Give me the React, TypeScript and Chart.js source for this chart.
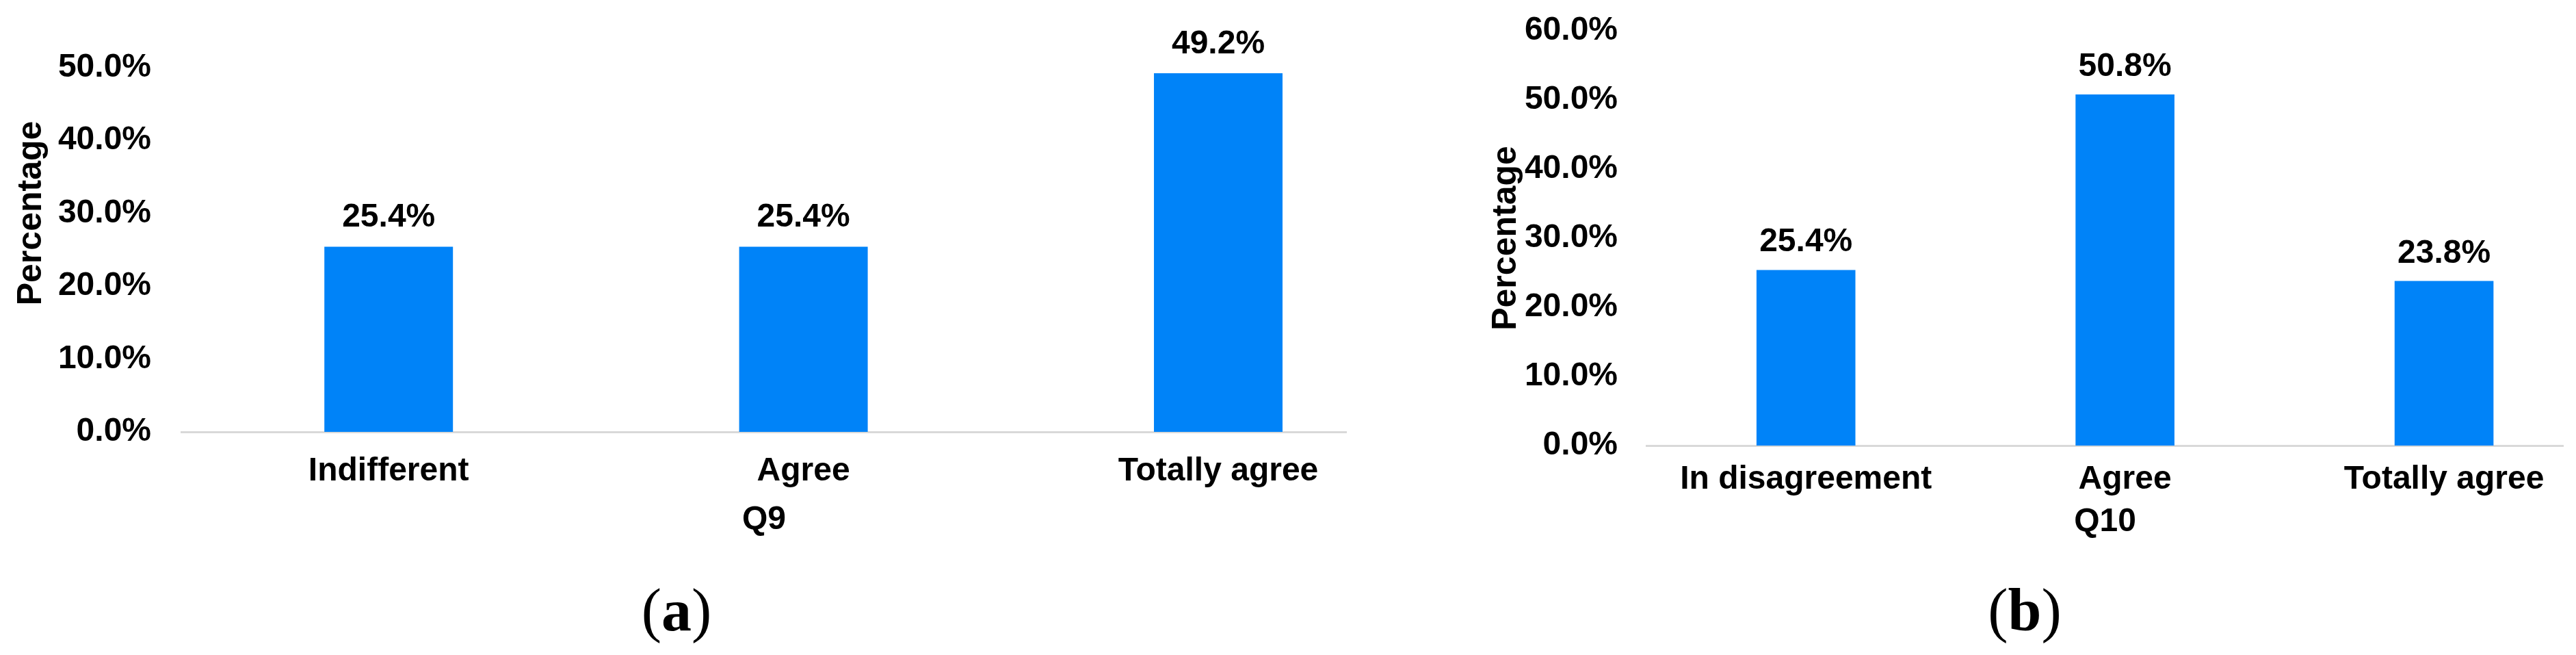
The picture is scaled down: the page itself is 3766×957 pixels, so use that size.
import React, { useEffect, useRef } from 'react';
import { Chart, registerables } from 'chart.js';

Chart.register(...registerables);

// ---------- data ----------
const CATEGORIES_Q9 = ['Indifferent', 'Agree', 'Totally agree'];
const VALUES_Q9 = [25.4, 25.4, 49.2];
const Y_TICKS_Q9 = [0, 10, 20, 30, 40, 50];
const X_TITLE_Q9 = 'Q9';
const PANEL_LABEL_Q9 = 'a';

const CATEGORIES_Q10 = ['In disagreement', 'Agree', 'Totally agree'];
const VALUES_Q10 = [25.4, 50.8, 23.8];
const Y_TICKS_Q10 = [0, 10, 20, 30, 40, 50, 60];
const X_TITLE_Q10 = 'Q10';
const PANEL_LABEL_Q10 = 'b';

const Y_TITLE = 'Percentage';

// ---------- style ----------
const FONT = '"Liberation Sans", Arial, Helvetica, sans-serif';
const SERIF = '"Liberation Serif", "Times New Roman", serif';
const BAR_COLOR = '#0083F8';
const AXIS_COLOR = '#D9D9D9';
const TEXT = '#000000';

type PanelProps = {
  categories: string[];
  values: number[];
  yTicks: number[];
  xTitle: string;
  yMax: number;
  xMax: number;
  left: number;
  top: number;
  width: number;
  height: number;
  padTop: number;
  yAxisWidth: number;
  yTickPad: number;
  yTitlePad: number;
  xAxisHeight: number;
  xTickPad: number;
  xTitlePadBottom: number;
  labelGap: number;
};

const fmt = (v: number) => `${Number(v).toFixed(1)}%`;

function Panel(p: PanelProps) {
  const ref = useRef<HTMLCanvasElement | null>(null);
  useEffect(() => {
    if (!ref.current) return;
    const valueLabels = {
      id: 'valueLabels',
      afterDatasetsDraw(chart: any) {
        const ctx = chart.ctx;
        const meta = chart.getDatasetMeta(0);
        const ds = chart.data.datasets[0];
        ctx.save();
        ctx.font = `bold 48px ${FONT}`;
        ctx.fillStyle = TEXT;
        ctx.textAlign = 'center';
        ctx.textBaseline = 'alphabetic';
        meta.data.forEach((el: any, i: number) => {
          const v = ds.data[i].y;
          ctx.fillText(fmt(v), el.x, el.y - p.labelGap);
        });
        ctx.restore();
      },
    };
    const chart = new Chart(ref.current, {
      type: 'bar',
      data: {
        datasets: [
          {
            data: p.values.map((v, i) => ({ x: i, y: v })),
            backgroundColor: BAR_COLOR,
            borderWidth: 0,
            barPercentage: 0.31,
            categoryPercentage: 1,
          },
        ],
      },
      options: {
        responsive: false,
        animation: false,
        devicePixelRatio: 1,
        layout: { padding: { top: p.padTop, left: 0, right: 0, bottom: 0 } },
        plugins: {
          legend: { display: false },
          tooltip: { enabled: false },
          title: { display: false },
        },
        scales: {
          x: {
            type: 'linear',
            min: -0.5,
            max: p.xMax,
            offset: false,
            afterBuildTicks: (s: any) => {
              s.ticks = p.categories.map((_, i) => ({ value: i }));
            },
            ticks: {
              padding: p.xTickPad,
              autoSkip: false,
              maxRotation: 0,
              minRotation: 0,
              color: TEXT,
              font: { family: FONT, size: 48, weight: 'bold' },
              callback: (v: any) => p.categories[v] ?? '',
            },
            grid: { display: false, drawTicks: false },
            border: { display: true, color: AXIS_COLOR, width: 3 },
            title: {
              display: true,
              text: p.xTitle,
              color: TEXT,
              font: { family: FONT, size: 48, weight: 'bold' },
              padding: { top: 0, bottom: p.xTitlePadBottom },
            },
            afterFit: (s: any) => {
              s.height = p.xAxisHeight;
              s.paddingLeft = 0;
              s.paddingRight = 0;
            },
          },
          y: {
            min: 0,
            max: p.yMax,
            afterBuildTicks: (s: any) => {
              s.ticks = p.yTicks.map((v) => ({ value: v }));
            },
            ticks: {
              padding: p.yTickPad,
              color: TEXT,
              font: { family: FONT, size: 48, weight: 'bold' },
              callback: (v: any) => fmt(v),
            },
            grid: { display: false, drawTicks: false },
            border: { display: false },
            title: {
              display: true,
              text: Y_TITLE,
              color: TEXT,
              font: { family: FONT, size: 50, weight: 'bold' },
              padding: { top: p.yTitlePad, bottom: 0 },
            },
            afterFit: (s: any) => {
              s.width = p.yAxisWidth;
              s.paddingTop = 0;
              s.paddingBottom = 0;
            },
          },
        },
      } as any,
      plugins: [valueLabels],
    });
    return () => chart.destroy();
  }, []);
  return (
    <canvas
      ref={ref}
      width={p.width}
      height={p.height}
      style={{
        position: 'absolute',
        left: p.left,
        top: p.top,
        width: p.width,
        height: p.height,
        display: 'block',
      }}
    />
  );
}

function PanelLabel({ letter, cx }: { letter: string; cx: number }) {
  return (
    <div
      style={{
        position: 'absolute',
        left: cx,
        top: 848,
        transform: 'translateX(-50%)',
        fontFamily: SERIF,
        fontSize: 88,
        lineHeight: 1,
        whiteSpace: 'nowrap',
        color: TEXT,
      }}
    >
      (<b>{letter}</b>)
    </div>
  );
}

export default function App() {
  return (
    <div
      style={{
        position: 'fixed',
        left: 0,
        top: 0,
        width: 3766,
        height: 957,
        background: '#ffffff',
        overflow: 'hidden',
      }}
    >
      <Panel
        categories={CATEGORIES_Q9}
        values={VALUES_Q9}
        yTicks={Y_TICKS_Q9}
        xTitle={X_TITLE_Q9}
        yMax={60}
        xMax={2.31}
        left={0}
        top={-60}
        width={1969}
        height={891}
        padTop={52}
        yAxisWidth={265}
        yTickPad={44}
        yTitlePad={16}
        xAxisHeight={200}
        xTickPad={29}
        xTitlePadBottom={42}
        labelGap={29}
      />
      <Panel
        categories={CATEGORIES_Q10}
        values={VALUES_Q10}
        yTicks={Y_TICKS_Q10}
        xTitle={X_TITLE_Q10}
        yMax={60}
        xMax={2.375}
        left={2170}
        top={0}
        width={1578}
        height={851}
        padTop={45}
        yAxisWidth={237}
        yTickPad={42}
        yTitlePad={2}
        xAxisHeight={200}
        xTickPad={21}
        xTitlePadBottom={59}
        labelGap={27}
      />
      <PanelLabel letter={PANEL_LABEL_Q9} cx={989} />
      <PanelLabel letter={PANEL_LABEL_Q10} cx={2960} />
    </div>
  );
}
